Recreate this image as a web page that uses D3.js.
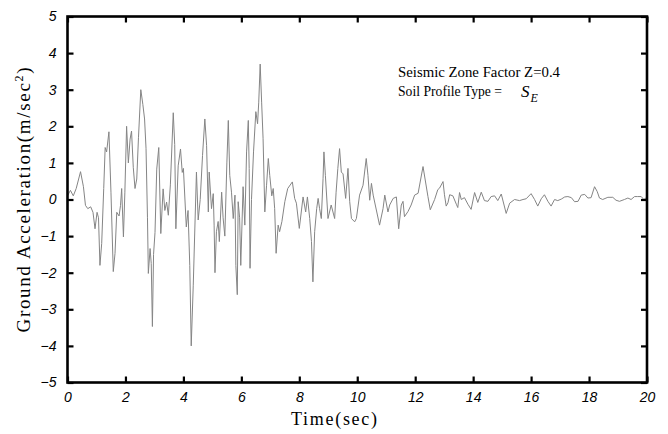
<!DOCTYPE html>
<html>
<head>
<meta charset="utf-8">
<script src="https://cdn.jsdelivr.net/npm/d3@7/dist/d3.min.js"></script>
<style>
  html, body { margin: 0; padding: 0; background: #fff; }
  svg { display: block; }
</style>
</head>
<body>
<svg id="chart"></svg>
<script>
// ground acceleration record, turning points
const time = [
  0.0, 0.1, 0.2, 0.3, 0.45, 0.55, 0.62, 0.7, 0.8, 0.88, 0.95, 1.02, 1.07, 1.12, 1.18,
  1.25, 1.3, 1.35, 1.43, 1.5, 1.58, 1.64, 1.7, 1.78, 1.83, 1.87, 1.93, 1.98, 2.04, 2.1,
  2.16, 2.21, 2.27, 2.33, 2.39, 2.45, 2.53, 2.6, 2.66, 2.71, 2.76, 2.79, 2.85, 2.89, 2.93,
  2.97, 3.02, 3.08, 3.15, 3.22, 3.3, 3.36, 3.42, 3.48, 3.55, 3.65, 3.7, 3.74, 3.82, 3.9,
  3.96, 4.0, 4.1, 4.16, 4.22, 4.27, 4.34, 4.45, 4.51, 4.58, 4.66, 4.74, 4.8, 4.86, 4.89,
  4.97, 5.03, 5.06, 5.09, 5.14, 5.2, 5.24, 5.32, 5.37, 5.43, 5.5, 5.55, 5.6, 5.66, 5.72,
  5.78, 5.81, 5.86, 5.89, 5.94, 5.98, 6.06, 6.12, 6.18, 6.24, 6.27, 6.3, 6.35, 6.42, 6.5,
  6.56, 6.6, 6.65, 6.7, 6.75, 6.81, 6.87, 6.93, 6.98, 7.05, 7.1, 7.15, 7.2, 7.27, 7.32,
  7.4, 7.5, 7.6, 7.76, 7.84, 7.9, 8.0, 8.13, 8.22, 8.28, 8.36, 8.42, 8.47, 8.53, 8.6,
  8.65, 8.7, 8.76, 8.82, 8.85, 8.9, 8.99, 9.1, 9.22, 9.27, 9.33, 9.39, 9.45, 9.51, 9.6,
  9.68, 9.74, 9.8, 9.91, 9.97, 10.08, 10.2, 10.31, 10.37, 10.43, 10.49, 10.55, 10.77, 10.89, 10.95,
  11.06, 11.12, 11.24, 11.35, 11.43, 11.52, 11.58, 11.63, 11.75, 11.86, 11.98, 12.1, 12.27, 12.44, 12.52,
  12.67, 12.78, 12.84, 12.96, 13.01, 13.07, 13.13, 13.19, 13.3, 13.42, 13.47, 13.53, 13.59, 13.7, 13.82,
  13.93, 14.05, 14.16, 14.28, 14.39, 14.51, 14.62, 14.74, 14.85, 14.97, 15.14, 15.26, 15.43, 15.6, 15.72,
  15.83, 16.0, 16.12, 16.23, 16.35, 16.46, 16.58, 16.69, 16.81, 16.92, 17.04, 17.16, 17.27, 17.39, 17.5,
  17.62, 17.73, 17.85, 17.96, 18.07, 18.19, 18.28, 18.36, 18.47, 18.65, 18.82, 18.93, 19.05, 19.22, 19.34,
  19.45, 19.57, 19.68, 19.8, 19.89, 19.98
];
const accel = [
  0.1, 0.25, 0.1, 0.3, 0.76, 0.35, -0.16, -0.25, -0.2, -0.35, -0.8, -0.35, -0.5, -1.8, -1.2,
  0.3, 1.42, 1.3, 1.85, 0.2, -1.97, -1.47, -0.35, -0.45, -0.16, 0.3, -1.02, 0.2, 2.0, 1.0,
  1.65, 1.87, 0.88, 0.3, 0.56, 1.7, 3.0, 2.6, 2.2, 1.4, -0.5, -2.02, -1.34, -1.75, -3.47,
  -1.5, -0.9, 0.83, 1.42, -0.93, 0.29, -0.3, -0.07, -0.43, 0.4, 2.37, 1.5, -0.8, 0.92, 1.38,
  0.74, 0.85, -0.75, -0.3, -1.8, -4.0, -2.34, 0.75, -0.56, 0.0, 1.2, 2.2, 1.48, -0.34, 0.75,
  -0.25, 0.16, -0.7, -2.0, -0.88, -0.6, -1.15, 0.2, -0.5, -1.0, 1.0, 2.16, 0.66, 0.2, -0.52,
  0.12, -1.8, -2.6, -0.06, -0.5, -1.8, 0.35, -0.7, 1.3, 2.16, 0.85, -1.88, 0.0, 1.3, 2.4,
  2.07, 2.66, 3.7, 2.66, 1.66, -0.34, 0.39, 1.12, 0.66, 0.1, 0.3, -0.25, -1.47, -0.7, -0.88,
  -0.6, -0.06, 0.3, 0.48, 0.03, -0.1, -0.79, 0.07, -0.34, 0.07, -0.52, -1.15, -2.25, -0.88, -0.25,
  0.03, -0.25, -0.52, 0.57, 1.3, 0.66, -0.52, -0.15, -0.52, 0.2, 0.85, 1.39, 0.75, 0.7, 0.03,
  0.85, -0.06, -0.52, -0.61, -0.52, 0.12, 0.39, 1.12, 0.66, -0.02, 0.44, 0.12, -0.7, -0.25, 0.12,
  -0.34, -0.15, 0.03, 0.07, -0.8, -0.15, -0.05, -0.47, -0.33, -0.15, 0.12, 0.17, 0.9, 0.08, -0.28,
  0.0, 0.27, 0.31, 0.49, 0.13, -0.18, -0.09, 0.13, 0.1, -0.13, -0.22, 0.19, 0.0, 0.05, -0.13,
  -0.27, 0.19, -0.08, 0.2, -0.03, -0.05, 0.08, 0.1, -0.03, 0.15, -0.38, -0.1, 0.0, -0.03, 0.0,
  0.02, 0.16, 0.0, -0.18, 0.02, 0.13, -0.05, -0.18, 0.0, -0.03, 0.01, 0.07, 0.08, 0.05, -0.06,
  -0.05, 0.12, 0.14, 0.04, 0.05, 0.35, 0.22, 0.04, 0.0, 0.06, 0.06, -0.02, -0.05, 0.0, 0.04,
  0.0, 0.08, 0.08, 0.08, 0.0, 0.05
];
const xTicks = [0, 2, 4, 6, 8, 10, 12, 14, 16, 18, 20];
const yTicks = [-5, -4, -3, -2, -1, 0, 1, 2, 3, 4, 5];
const noteLines = ['Seismic Zone Factor Z=0.4', 'Soil Profile Type ='];

const W = 668, H = 434;
const plot = { left: 67.5, right: 647, top: 16.5, bottom: 382.5 };

const svg = d3.select('#chart').attr('width', W).attr('height', H);

const x = d3.scaleLinear().domain([0, 20]).range([plot.left, plot.right]);
const y = d3.scaleLinear().domain([-5, 5]).range([plot.bottom, plot.top]);

const data = time.map((t, i) => ({ t: t, a: accel[i] }));

// signal trace
svg.append('path')
  .datum(data)
  .attr('fill', 'none')
  .attr('stroke', '#858585')
  .attr('stroke-width', 1)
  .attr('stroke-linejoin', 'round')
  .attr('d', d3.line().x(d => x(d.t)).y(d => y(d.a)));

// inward ticks on all four sides
const tickFont = '"Liberation Sans", Arial, sans-serif';
svg.append('g')
  .attr('transform', `translate(0,${plot.bottom})`)
  .call(d3.axisBottom(x).tickValues(xTicks).tickSizeInner(-6).tickSizeOuter(0).tickPadding(10))
  .call(g => g.select('.domain').remove())
  .call(g => g.selectAll('line').attr('stroke', '#000').attr('stroke-width', 2.2))
  .call(g => g.selectAll('text')
    .attr('font-family', tickFont).attr('font-style', 'italic')
    .attr('font-size', 14).attr('fill', '#000'));

svg.append('g')
  .attr('transform', `translate(0,${plot.top})`)
  .call(d3.axisTop(x).tickValues(xTicks).tickSizeInner(-6).tickSizeOuter(0).tickFormat(''))
  .call(g => g.select('.domain').remove())
  .call(g => g.selectAll('line').attr('stroke', '#000').attr('stroke-width', 2.2));

svg.append('g')
  .attr('transform', `translate(${plot.left},0)`)
  .call(d3.axisLeft(y).tickValues(yTicks).tickSizeInner(-6).tickSizeOuter(0).tickPadding(11))
  .call(g => g.select('.domain').remove())
  .call(g => g.selectAll('line').attr('stroke', '#000').attr('stroke-width', 2.2))
  .call(g => g.selectAll('text')
    .attr('font-family', tickFont).attr('font-style', 'italic')
    .attr('font-size', 14).attr('fill', '#000'));

svg.append('g')
  .attr('transform', `translate(${plot.right},0)`)
  .call(d3.axisRight(y).tickValues(yTicks).tickSizeInner(-6).tickSizeOuter(0).tickFormat(''))
  .call(g => g.select('.domain').remove())
  .call(g => g.selectAll('line').attr('stroke', '#000').attr('stroke-width', 2.2));

// frame
svg.append('rect')
  .attr('x', plot.left).attr('y', plot.top)
  .attr('width', plot.right - plot.left).attr('height', plot.bottom - plot.top)
  .attr('fill', 'none').attr('stroke', '#000').attr('stroke-width', 2.6);

const serif = '"Liberation Serif", "Times New Roman", serif';

// axis titles
svg.append('text')
  .attr('x', 334).attr('y', 425)
  .attr('text-anchor', 'middle')
  .attr('font-family', serif).attr('font-size', 18)
  .attr('textLength', 86).attr('lengthAdjust', 'spacing')
  .text('Time(sec)');

const yTitle = svg.append('text')
  .attr('transform', 'translate(30,200) rotate(-90)')
  .attr('text-anchor', 'middle')
  .attr('font-family', serif).attr('font-size', 19)
  .attr('textLength', 265).attr('lengthAdjust', 'spacing');
yTitle.append('tspan').text('Ground Acceleration(m/sec');
yTitle.append('tspan').attr('dy', -7).attr('font-size', 12).text('2');
yTitle.append('tspan').attr('dy', 7).text(')');

// annotation
const note = svg.append('g').attr('font-family', serif).attr('font-size', 15);
note.selectAll('text.line')
  .data(noteLines)
  .enter()
  .append('text')
  .attr('class', 'line')
  .attr('x', 398)
  .attr('y', (d, i) => 77 + i * 19)
  .attr('textLength', (d, i) => i === 0 ? 162 : 104)
  .attr('lengthAdjust', 'spacingAndGlyphs')
  .text(d => d);
const se = note.append('text').attr('x', 521).attr('y', 97).attr('font-style', 'italic');
se.append('tspan').attr('font-size', 17).text('S');
se.append('tspan').attr('dy', 5).attr('dx', 1).attr('font-size', 12).text('E');
</script>
</body>
</html>
